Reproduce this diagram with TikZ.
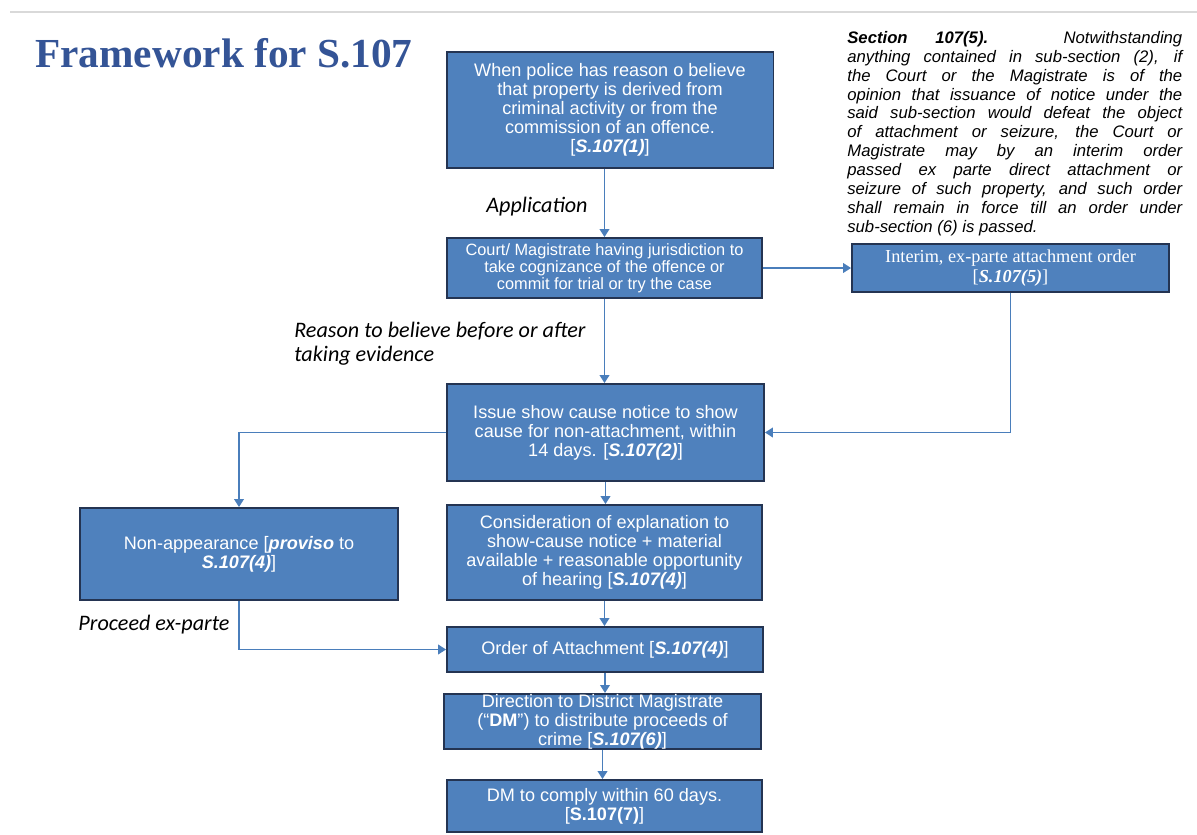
\documentclass[tikz,border=0pt]{standalone}
\usepackage{fontspec}
\setmainfont{Liberation Sans}
\newfontfamily\serifbox{Liberation Serif}
\newfontfamily\notefont{Carlito}
\usetikzlibrary{arrows.meta,positioning}

\definecolor{boxblue}{RGB}{79,129,189}
\definecolor{boxedge}{RGB}{36,52,82}
\definecolor{linkblue}{RGB}{74,126,187}
\definecolor{titleblue}{RGB}{52,84,150}

\tikzset{
  flowbox/.style={draw=boxedge,line width=1.1pt,fill=boxblue,text=white,align=center,
    inner sep=2pt,font=\fontsize{10.3}{10.9}\selectfont},
  link/.style={draw=linkblue,line width=0.8pt,-{Triangle[width=5.5pt,length=4.5pt]}},
  remark/.style={font=\notefont\itshape\fontsize{12.6}{13.8}\selectfont,inner sep=0pt}
}
\newcommand{\secref}[1]{\textbf{\textit{#1}}}
\newcommand{\jline}[1]{\makebox[6.7cm][s]{#1}\\}

\begin{document}
\begin{tikzpicture}[x=0.02cm,y=-0.02cm]
        \useasboundingbox (0,0) rectangle (1197,835);
        \draw[black!15,line width=0.8pt] (10,12) -- (1197,12);
        % title and side note
        \node[anchor=west,text=titleblue,font=\serifbox\bfseries\fontsize{23.5}{27}\selectfont,inner sep=0pt] (title) at (35,53) {Framework for S.107};
        \node[anchor=north west,inner sep=0pt,text width=6.7cm,align=justify,font=\itshape\fontsize{9.5}{10.75}\selectfont] (note) at (847,31) {%
          \jline{\textbf{Section} \textbf{107(5).} Notwithstanding}
          \jline{anything contained in sub-section (2), if}
          \jline{the Court or the Magistrate is of the}
          \jline{opinion that issuance of notice under the}
          \jline{said sub-section would defeat the object}
          \jline{of attachment or seizure, the Court or}
          \jline{Magistrate may by an interim order}
          \jline{passed ex parte direct attachment or}
          \jline{seizure of such property, and such order}
          \jline{shall remain in force till an order under}
          sub-section (6) is passed.};
        % boxes
        \node[flowbox,minimum width=6.54cm,minimum height=2.32cm] (police) at (610,110)
          {When police has reason o believe\\ that property is derived from\\ criminal activity or from the\\ commission of an offence.\\ {[}\secref{S.107(1)}{]}};
        \node[flowbox,minimum width=6.3cm,minimum height=1.2cm,font=\fontsize{9.3}{9.6}\selectfont] (court) at (604.5,268)
          {Court/ Magistrate having jurisdiction to\\ take cognizance of the offence or\\ commit for trial or try the case};
        \node[flowbox,minimum width=6.34cm,minimum height=0.96cm,font=\serifbox\fontsize{10.4}{11.4}\selectfont] (interim) at (1010.5,268)
          {Interim, ex-parte attachment order\\ {[}\secref{S.107(5)}{]}};
        \node[flowbox,minimum width=6.34cm,minimum height=1.94cm] (issue) at (605.5,432.5)
          {Issue show cause notice to show\\ cause for non-attachment, within\\ 14 days. {[}\secref{S.107(2)}{]}};
        \node[flowbox,minimum width=6.36cm,minimum height=1.84cm] (nonapp) at (239,554)
          {Non-appearance {[}\secref{proviso} to\\ \secref{S.107(4)}{]}};
        \node[flowbox,minimum width=6.3cm,minimum height=1.9cm] (consider) at (604.5,552.5)
          {Consideration of explanation to\\ show-cause notice + material\\ available + reasonable opportunity\\ of hearing {[}\secref{S.107(4)}{]}};
        \node[flowbox,minimum width=6.32cm,minimum height=0.9cm] (order) at (605,649.5)
          {Order of Attachment {[}\secref{S.107(4)}{]}};
        \node[flowbox,minimum width=6.34cm,minimum height=1.06cm,inner sep=0pt] (direct) at (602.5,721.5)
          {Direction to District Magistrate\\ (“\textbf{DM}”) to distribute proceeds of\\ crime {[}\secref{S.107(6)}{]}};
        \node[flowbox,minimum width=6.3cm,minimum height=1.04cm] (comply) at (604.5,806)
          {DM to comply within 60 days.\\ {[}\textbf{S.107(7)}{]}};
        % remarks on the links
        \node[remark] (application) at (537,207) {Application};
        \node[remark,anchor=west,align=left] (reason) at (294,344) {Reason to believe before or after\\ taking evidence};
        \node[remark] (proceed) at (154,625) {Proceed ex-parte};
        % links
        \draw[link] (court.north |- police.south) -- (court.north);
        \draw[link] (court.east) -- (interim.west);
        \draw[link] (interim.south) |- (issue.east);
        \draw[link] (court.south) -- (court.south |- issue.north);
        \draw[link] (issue.west) -| (nonapp.north);
        \draw[link] (issue.south) -- (issue.south |- consider.north);
        \draw[link] (nonapp.south) |- (order.west);
        \draw[link] (consider.south) -- (consider.south |- order.north);
        \draw[link] (order.south) -- (order.south |- direct.north);
        \draw[link] (direct.south) -- (direct.south |- comply.north);
      \end{tikzpicture}
\end{document}
